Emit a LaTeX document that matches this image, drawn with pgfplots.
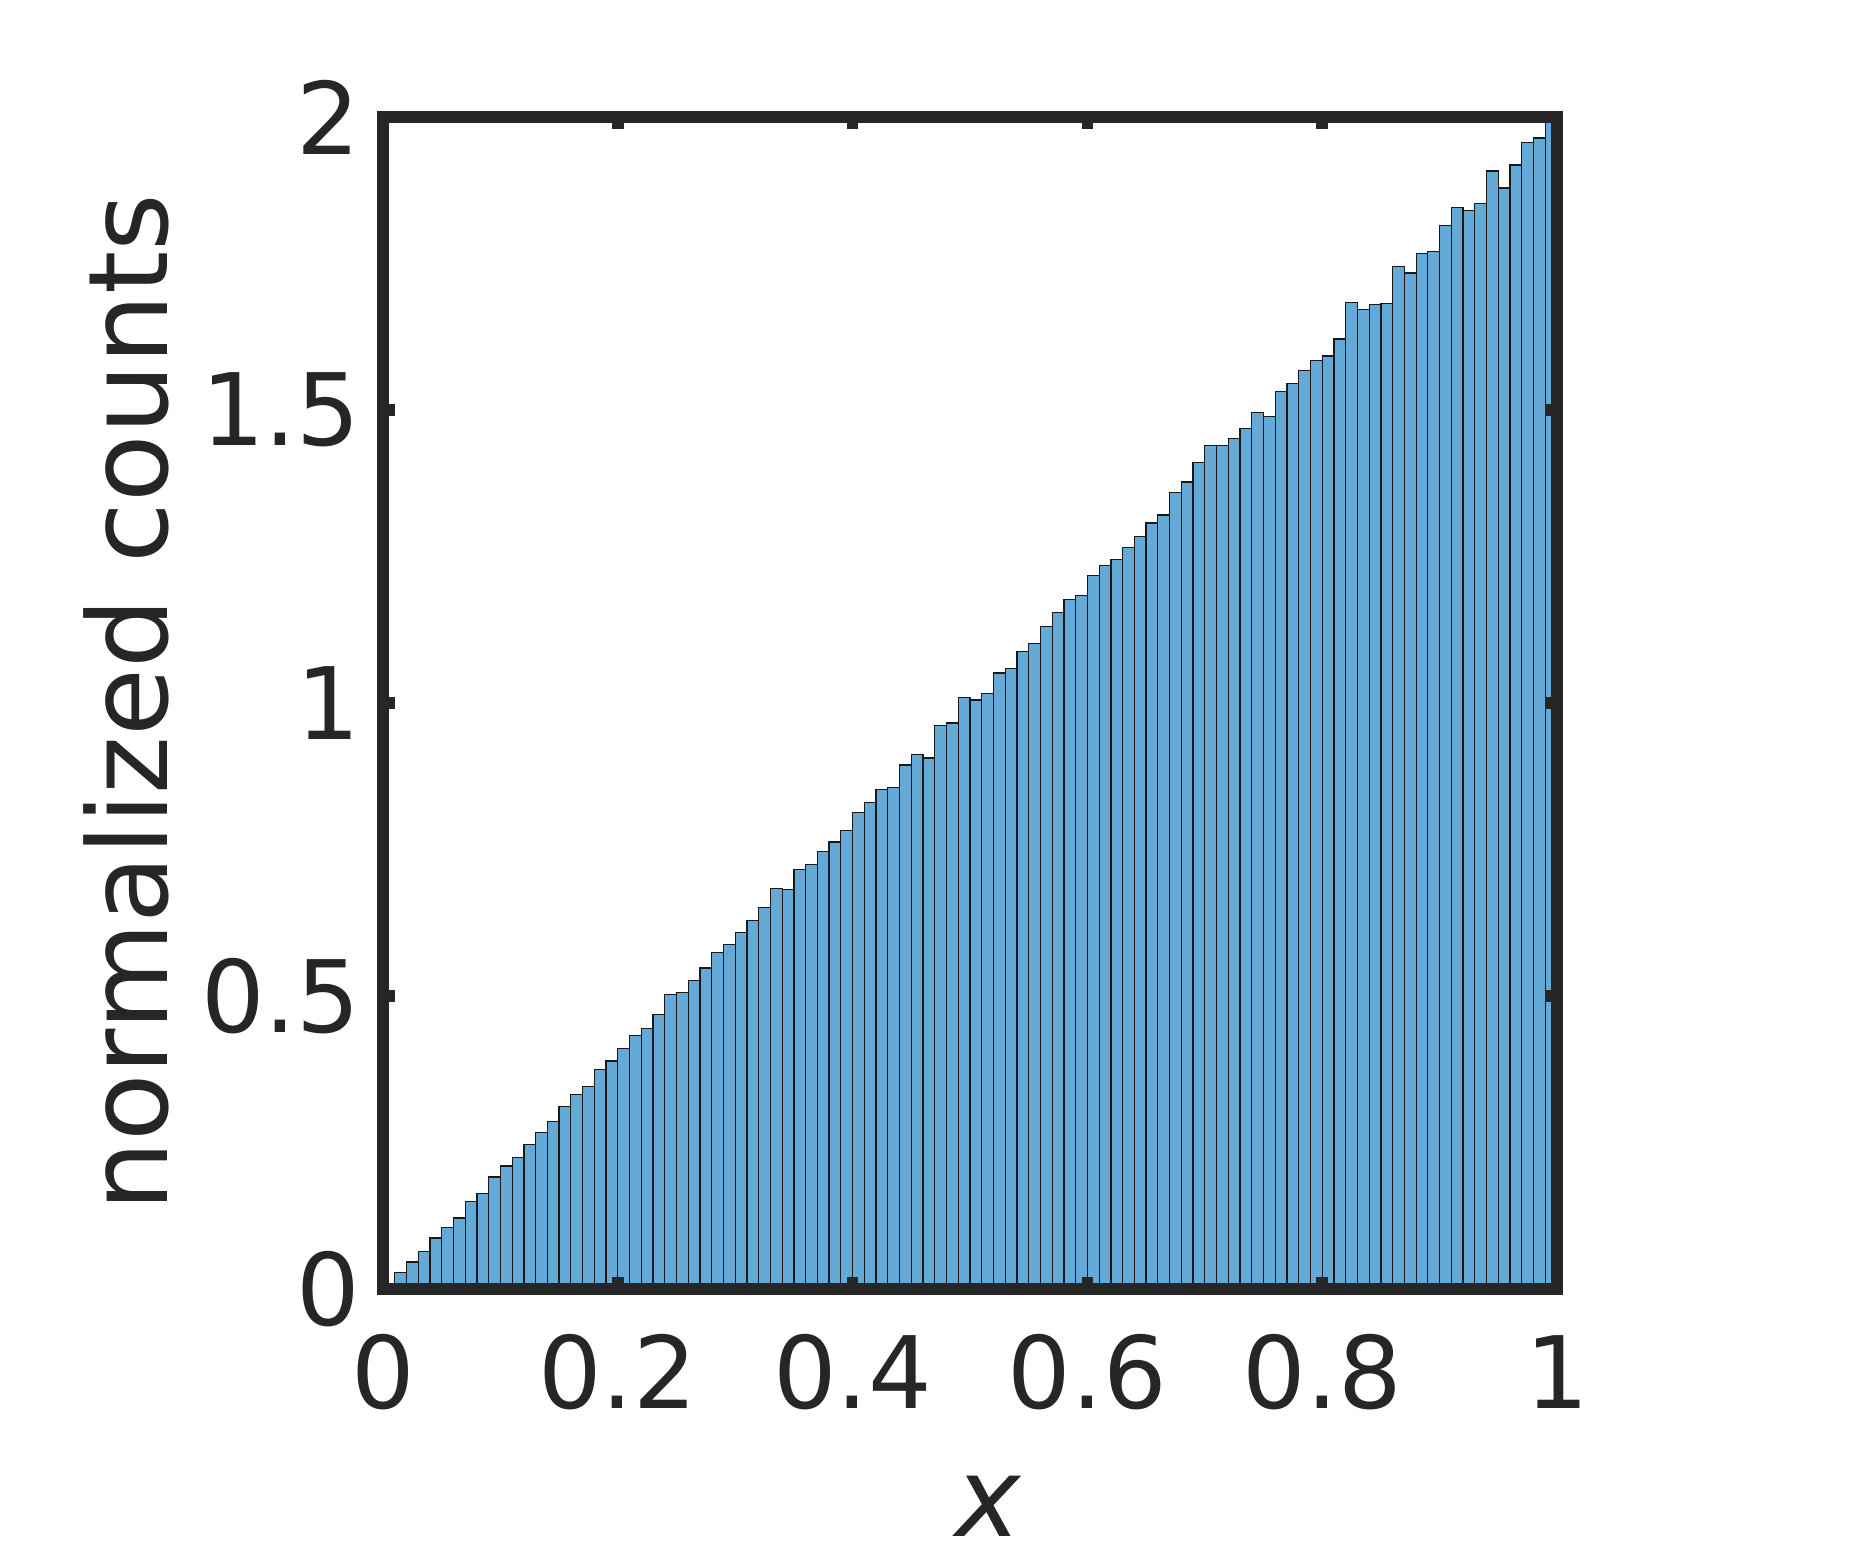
\documentclass[border=0pt]{standalone}
\usepackage{pgfplots}
\pgfplotsset{compat=1.18}
\usepackage{fontspec}
\setmainfont{DejaVu Sans}
\definecolor{axgray}{RGB}{38,38,38}
\definecolor{barblue}{RGB}{101,169,215}
\begin{document}
\begin{tikzpicture}
\path[use as bounding box] (-91.92pt,-65.76pt) rectangle (358.08pt,309.36pt);
\begin{axis}[
  at={(0,0)}, anchor=south west,
  scale only axis, width=281.76pt, height=281.28pt,
  xmin=0, xmax=1, ymin=0, ymax=2,
  axis on top=true,
  axis line style={line width=2.8pt, color=axgray, line cap=rect},
  xtick={0,0.2,0.4,0.6,0.8,1},
  xticklabels={0,0.2,0.4,0.6,0.8,1},
  ytick={0,0.5,1,1.5,2},
  yticklabels={0,0.5,1,1.5,2},
  tick align=inside,
  major tick length=2.8pt,
  major tick style={line width=2.8pt, color=axgray},
  tick label style={font=\fontsize{24}{28}\selectfont, text=axgray},
  xticklabel style={anchor=base, yshift=-28.7pt},
  yticklabel style={anchor=east, xshift=-1.9pt},
  /pgf/number format/assume math mode=true,
  xlabel={\textit{x}},
  ylabel={normalized counts},
  label style={font=\fontsize{26.5}{30}\selectfont, text=axgray},
  xlabel style={at={(axis description cs:0.516,-0.2115)}, anchor=base},
  ylabel style={at={(axis description cs:-0.1838,0.5)}, anchor=base},
]
\addplot[ybar interval, fill=barblue, draw=black!90, line width=0.3pt] table {
x y
0.00 0.006
0.01 0.028
0.02 0.046
0.03 0.064
0.04 0.087
0.05 0.105
0.06 0.121
0.07 0.149
0.08 0.163
0.09 0.191
0.10 0.210
0.11 0.225
0.12 0.246
0.13 0.267
0.14 0.286
0.15 0.311
0.16 0.332
0.17 0.345
0.18 0.374
0.19 0.389
0.20 0.411
0.21 0.433
0.22 0.444
0.23 0.468
0.24 0.503
0.25 0.506
0.26 0.527
0.27 0.548
0.28 0.574
0.29 0.588
0.30 0.609
0.31 0.629
0.32 0.651
0.33 0.683
0.34 0.682
0.35 0.716
0.36 0.725
0.37 0.747
0.38 0.763
0.39 0.783
0.40 0.813
0.41 0.830
0.42 0.852
0.43 0.856
0.44 0.894
0.45 0.912
0.46 0.906
0.47 0.962
0.48 0.966
0.49 1.009
0.50 1.005
0.51 1.016
0.52 1.051
0.53 1.059
0.54 1.088
0.55 1.101
0.56 1.130
0.57 1.155
0.58 1.177
0.59 1.184
0.60 1.217
0.61 1.235
0.62 1.245
0.63 1.266
0.64 1.284
0.65 1.307
0.66 1.321
0.67 1.359
0.68 1.377
0.69 1.410
0.70 1.439
0.71 1.440
0.72 1.451
0.73 1.468
0.74 1.496
0.75 1.489
0.76 1.531
0.77 1.545
0.78 1.568
0.79 1.585
0.80 1.592
0.81 1.621
0.82 1.684
0.83 1.671
0.84 1.680
0.85 1.682
0.86 1.745
0.87 1.734
0.88 1.767
0.89 1.770
0.90 1.815
0.91 1.846
0.92 1.840
0.93 1.852
0.94 1.908
0.95 1.879
0.96 1.918
0.97 1.956
0.98 1.964
0.99 1.995
1.00 1.995
};
\end{axis}
\end{tikzpicture}
\end{document}
